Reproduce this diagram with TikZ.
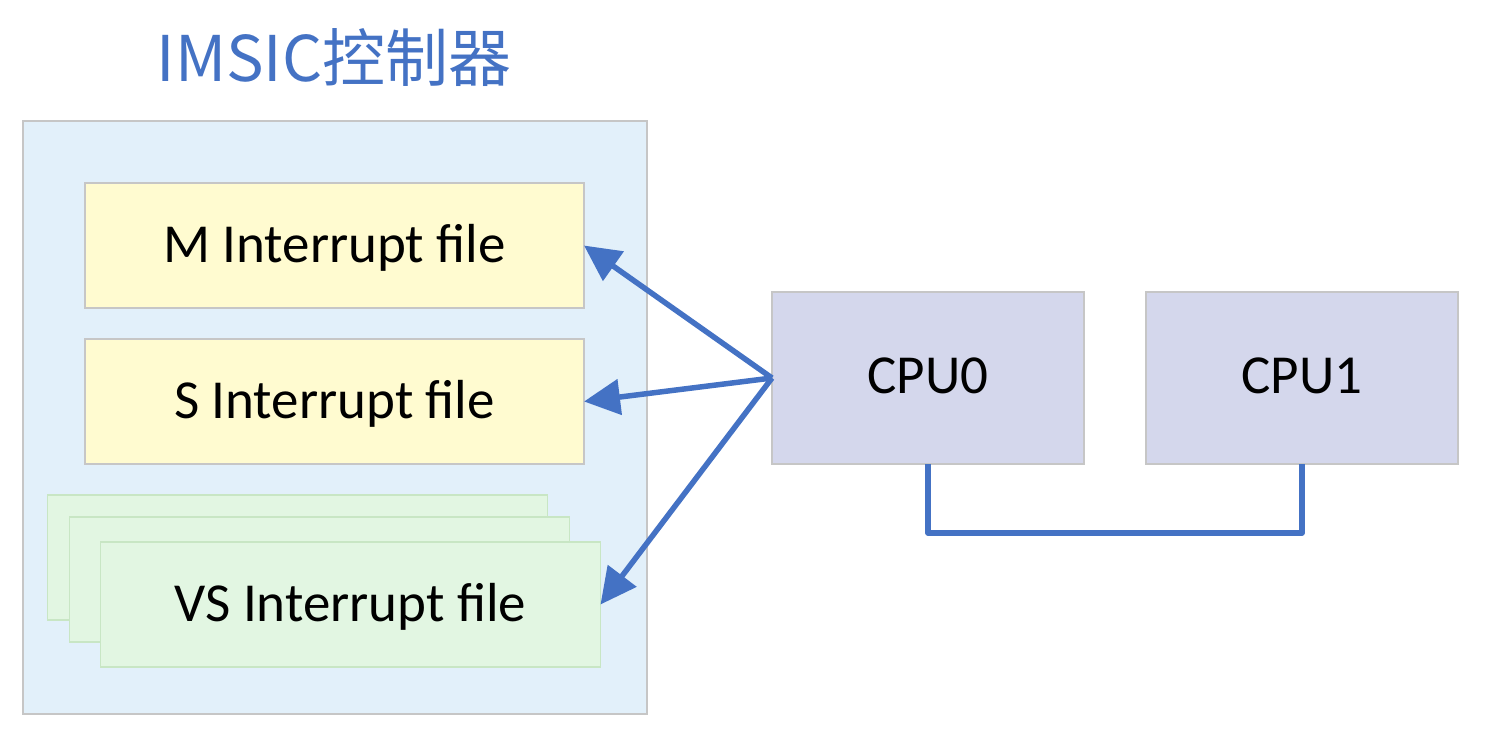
\documentclass[tikz,border=0pt]{standalone}
\usepackage{fontspec}
\setmainfont{Carlito}
\newfontfamily\cjkfont{Noto Sans CJK SC}
\usetikzlibrary{arrows.meta}
\definecolor{accent}{HTML}{4472C4}
\definecolor{outerfill}{HTML}{E2F0FA}
\definecolor{yelfill}{HTML}{FFFBD0}
\definecolor{grnfill}{HTML}{E2F6E2}
\definecolor{grnline}{HTML}{C8E6C4}
\definecolor{cpufill}{HTML}{D4D7EC}
\definecolor{boxline}{HTML}{C6C6C6}
\tikzset{
  x=1pt, y=-1pt,
  panel/.style={draw=boxline, line width=1.3pt, inner sep=0pt, outer sep=0pt},
  txt/.style={font=\fontsize{55}{62}\selectfont, text depth=4pt},
  filebox/.style={panel, txt, fill=yelfill, minimum width=499pt, minimum height=125pt},
  vsbox/.style={draw=grnline, line width=1.3pt, fill=grnfill, inner sep=0pt, outer sep=0pt, txt, minimum width=500pt, minimum height=125pt},
  cpubox/.style={panel, txt, fill=cpufill, minimum width=312pt, minimum height=172pt},
  link/.style={draw=accent, line width=5.5pt},
  arr/.style={link, -{Triangle[length=36pt,width=35pt]}},
}
\begin{document}
\begin{tikzpicture}
\useasboundingbox (0,0) rectangle (1488,742);
\node[text=accent, font=\cjkfont\fontsize{63}{72}\selectfont, inner sep=0pt] (title) at (334,58) {IMSIC控制器};
\node[panel, fill=outerfill, minimum width=624pt, minimum height=593pt] (outer) at (335,417.5) {};
\node[filebox] (M) at (334.5,245.5) {M Interrupt file};
\node[filebox] (S) at (334.5,401.5) {S Interrupt file};
\node[vsbox] (VSa) at (297.5,557.5) {};
\node[vsbox] (VSb) at (319.5,579.5) {};
\node[vsbox] (VS) at (350.5,604.5) {VS Interrupt file};
\node[cpubox] (CPU0) at (928,378) {CPU0};
\node[cpubox] (CPU1) at (1302,378) {CPU1};
\draw[arr] (CPU0.west) -- (M.east);
\draw[arr] (CPU0.west) -- (S.east);
\draw[arr] (CPU0.west) -- (VS.east);
\draw[link, line join=round] (CPU0.south) -- ++(0,69) -| (CPU1.south);
\end{tikzpicture}
\end{document}
